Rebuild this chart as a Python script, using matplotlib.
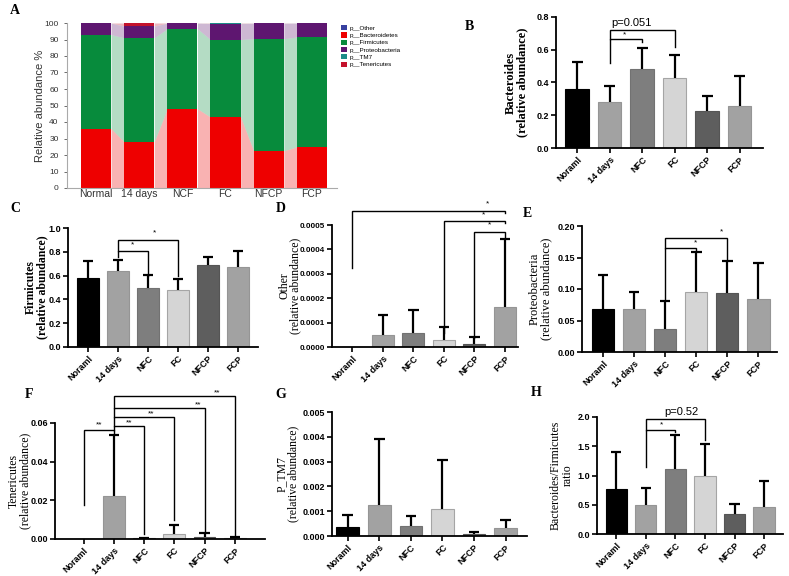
import matplotlib.pyplot as plt
from matplotlib.patches import Patch
from matplotlib.ticker import FormatStrFormatter, MultipleLocator

W, H = 789, 576

# ---- panel A: stacked relative abundance (%)
stack_groups = ['Normal', '14 days', 'NCF', 'FC', 'NFCP', 'FCP']
bacteroidetes = [36.0, 28.0, 48.0, 43.0, 22.5, 25.0]
firmicutes = [57.0, 63.0, 48.5, 47.0, 68.0, 66.5]
proteobacteria = [6.96, 7.0, 3.41, 9.64, 9.39, 8.42]
tm7 = [0.03, 0.13, 0.04, 0.11, 0.01, 0.03]
tenericutes = [0.01, 1.87, 0.05, 0.25, 0.1, 0.05]
other = [0.0, 0.005, 0.006, 0.003, 0.001, 0.016]

# ---- panels B-H: mean and SD per group
groups = ['Noraml', '14 days', 'NFC', 'FC', 'NFCP', 'FCP']
bact_mean = [0.36, 0.28, 0.48, 0.43, 0.225, 0.255]
bact_sd = [0.165, 0.10, 0.13, 0.135, 0.09, 0.185]
firm_mean = [0.58, 0.64, 0.495, 0.475, 0.69, 0.675]
firm_sd = [0.14, 0.095, 0.11, 0.095, 0.07, 0.13]
other_mean = [0.0, 5.0e-5, 5.8e-5, 3.0e-5, 1.3e-5, 1.65e-4]
other_sd = [0.0, 8.2e-5, 9.5e-5, 5.0e-5, 3.0e-5, 2.78e-4]
proteo_mean = [0.069, 0.068, 0.037, 0.095, 0.094, 0.084]
proteo_sd = [0.054, 0.027, 0.044, 0.063, 0.050, 0.057]
teneri_mean = [0.0, 0.0225, 0.0005, 0.0025, 0.0012, 0.0006]
teneri_sd = [0.0, 0.0315, 0.0001, 0.005, 0.0018, 0.0006]
tm7_mean = [0.00035, 0.00127, 0.00042, 0.0011, 0.0001, 0.00031]
tm7_sd = [0.0005, 0.00266, 0.0004, 0.00195, 0.00008, 0.00033]
ratio_mean = [0.77, 0.49, 1.11, 1.0, 0.35, 0.46]
ratio_sd = [0.64, 0.30, 0.58, 0.53, 0.17, 0.44]

bar_colors = ['#000000', '#a2a2a2', '#7e7e7e', '#d5d5d5', '#5e5e5e', '#a2a2a2']
edge_colors = ['#000000', '#959595', '#727272', '#a5a5a5', '#555555', '#959595']

SERIF = 'Liberation Serif'
SANS = 'Liberation Sans'

fig = plt.figure(figsize=(W / 100, H / 100), dpi=100)


def px_axes(l, r, t, b):
    return fig.add_axes([l / W, 1 - b / H, (r - l) / W, (b - t) / H])


def panel_label(x, y, s):
    fig.text(x / W, 1 - y / H, s, fontfamily=SERIF, fontweight='bold', fontsize=10,
             ha='left', va='center')


# ================= A =================
axA = px_axes(67, 337, 23, 188)
layers = [
    ('p__Bacteroidetes', bacteroidetes, '#ee0000'),
    ('p__Firmicutes', firmicutes, '#078b3c'),
    ('p__Proteobacteria', proteobacteria, '#5e1670'),
    ('p__TM7', tm7, '#1c8c88'),
    ('p__Tenericutes', tenericutes, '#c4122c'),
    ('p__Other', other, '#3840a0'),
]
w = 0.7
xs = list(range(len(stack_groups)))
bottom = [0.0] * len(xs)
for name, vals, col in layers:
    top = [b + v for b, v in zip(bottom, vals)]
    axA.bar(xs, vals, width=w, bottom=bottom, color=col, linewidth=0, zorder=2)
    for i in range(len(xs) - 1):
        axA.fill_between([i + w / 2, i + 1 - w / 2], [bottom[i], bottom[i + 1]],
                         [top[i], top[i + 1]], color=col, alpha=0.3, linewidth=0, zorder=1)
    bottom = top
axA.set_xlim(-0.67, 5.58)
axA.set_ylim(0, 100)
axA.yaxis.set_major_locator(MultipleLocator(10))
axA.set_xticks(xs)
axA.set_xticklabels(stack_groups, fontfamily=SANS, fontsize=7.5, color='#333333')
axA.tick_params(axis='y', labelsize=6, colors='#555555', length=2.5, width=0.6)
axA.tick_params(axis='x', length=0, pad=1)
for lbl in axA.get_yticklabels():
    lbl.set_fontfamily(SANS)
    lbl.set_color('#333333')
for s in ['top', 'right']:
    axA.spines[s].set_visible(False)
for s in ['left', 'bottom']:
    axA.spines[s].set_color('#aaaaaa')
    axA.spines[s].set_linewidth(0.8)
axA.text(-0.1, 0.5, 'Relative abundance %', transform=axA.transAxes, rotation=90,
         ha='center', va='center', fontfamily=SANS, fontsize=8, color='#333333')

leg_order = ['p__Other', 'p__Bacteroidetes', 'p__Firmicutes', 'p__Proteobacteria',
             'p__TM7', 'p__Tenericutes']
col_map = {n: c for n, _, c in layers}
handles = [Patch(facecolor=col_map[n], edgecolor='none', label=n) for n in leg_order]
fig.legend(handles=handles, loc='upper left', bbox_to_anchor=(341 / W, 1 - 25 / H),
           frameon=False, prop={'family': SANS, 'size': 4.5}, handlelength=0.9,
           handleheight=0.9, handletextpad=0.5, labelspacing=0.25, borderaxespad=0,
           borderpad=0)
panel_label(10, 11, 'A')


# ================= bar panels =================
def bar_panel(ax, means, sds, ymax, step, fmt, xlim, ylabel, lab_x, lab_size, bold,
              tick_size=6.5):
    x = list(range(len(groups)))
    ax.bar(x, means, width=0.72, color=bar_colors, edgecolor=edge_colors,
           linewidth=0.8, zorder=2)
    for xi, m, s in zip(x, means, sds):
        if s > 0:
            ax.vlines(xi, m, m + s, color='black', lw=1.6, zorder=3)
            ax.hlines(m + s, xi - 0.17, xi + 0.17, color='black', lw=1.6, zorder=3)
    ax.set_xlim(*xlim)
    ax.set_ylim(0, ymax)
    ax.yaxis.set_major_locator(MultipleLocator(step))
    ax.yaxis.set_major_formatter(FormatStrFormatter(fmt))
    ax.set_xticks(x)
    ax.set_xticklabels(groups, rotation=45, ha='right', rotation_mode='anchor',
                       fontfamily=SANS, fontweight='bold', fontsize=6.5)
    for lbl in ax.get_yticklabels():
        lbl.set_fontfamily(SANS)
        lbl.set_fontweight('bold')
        lbl.set_fontsize(tick_size)
    ax.tick_params(axis='both', length=3.5, width=1.2, pad=1.5)
    for s in ['top', 'right']:
        ax.spines[s].set_visible(False)
    for s in ['left', 'bottom']:
        ax.spines[s].set_linewidth(1.3)
    ax.text(lab_x, 0.5, ylabel, transform=ax.transAxes, rotation=90, ha='center',
            va='center', fontfamily=SERIF, fontsize=lab_size,
            fontweight='bold' if bold else 'normal', linespacing=0.95)


def bracket(ax, i, j, y, yi, yj, text, tx, ty, size=7, family=SANS):
    ax.plot([i, i, j, j], [yi, y, y, yj], color='black', lw=1.0, clip_on=False,
            zorder=4, solid_joinstyle='miter')
    ax.text(tx, ty, text, ha='center', va='center', fontsize=size, fontfamily=family,
            clip_on=False)


# B
axB = px_axes(556, 763, 17, 148)
bar_panel(axB, bact_mean, bact_sd, 0.8, 0.2, '%.1f', (-0.65, 5.72),
          'Bacteroides\n(relative abundance)', -0.19, 9, True)
bracket(axB, 1, 2, 0.666, 0.52, 0.647, '*', 1.45, 0.69, 6)
bracket(axB, 1, 3, 0.72, 0.666, 0.617, 'p=0.051', 1.66, 0.762, 8)
panel_label(465, 27, 'B')

# C
axC = px_axes(68, 258, 228, 347)
bar_panel(axC, firm_mean, firm_sd, 1.0, 0.2, '%.1f', (-0.67, 5.67),
          'Firmicutes\n(relative abundance)', -0.165, 8.5, True)
bracket(axC, 1, 2, 0.805, 0.757, 0.6, '*', 1.48, 0.855, 6)
bracket(axC, 1, 3, 0.897, 0.805, 0.6, '*', 2.2, 0.955, 6)
panel_label(10, 209, 'C')

# D
axD = px_axes(332, 518, 225, 347)
bar_panel(axD, other_mean, other_sd, 0.0005, 0.0001, '%.4f', (-0.67, 5.43),
          'Other\n(relative abundance)', -0.226, 8.5, False, tick_size=5.8)
bracket(axD, 0, 5, 0.000559, 0.000322, 0.000549, '*', 4.44, 0.000585, 6)
bracket(axD, 3, 5, 0.000518, 0.000056, 0.000508, '*', 4.31, 0.000542, 6)
bracket(axD, 4, 5, 0.00047, 0.000036, 0.000446, '*', 4.49, 0.000500, 6)
panel_label(276, 208, 'D')

# E
axE = px_axes(582, 777, 226, 352)
bar_panel(axE, proteo_mean, proteo_sd, 0.20, 0.05, '%.2f', (-0.68, 5.6),
          'Proteobacteria\n(relative abundance)', -0.215, 9, False)
bracket(axE, 2, 3, 0.165, 0.082, 0.161, '*', 2.97, 0.173, 6)
bracket(axE, 2, 4, 0.1816, 0.165, 0.146, '*', 3.8, 0.19, 6)
panel_label(523, 213, 'E')

# F
axF = px_axes(55, 265, 423, 539)
bar_panel(axF, teneri_mean, teneri_sd, 0.06, 0.02, '%.2f', (-0.95, 6.0),
          'Tenericutes\n(relative abundance)', -0.17, 8.5, False)
bracket(axF, 0, 1, 0.0565, 0.0176, 0.055, '**', 0.5, 0.0588, 6)
bracket(axF, 1, 2, 0.0586, 0.0565, 0.0026, '**', 1.5, 0.0602, 6)
bracket(axF, 1, 3, 0.0631, 0.0586, 0.0098, '**', 2.22, 0.0648, 6)
bracket(axF, 1, 4, 0.0678, 0.0631, 0.004, '**', 3.8, 0.0694, 6)
bracket(axF, 1, 5, 0.0738, 0.0678, 0.0012, '**', 4.43, 0.0755, 6)
panel_label(25, 394, 'F')

# G
axG = px_axes(332, 527, 412, 536)
bar_panel(axG, tm7_mean, tm7_sd, 0.005, 0.001, '%.3f', (-0.5, 5.68),
          'P_TM7\n(relative abundance)', -0.23, 8.5, False)
panel_label(275, 395, 'G')

# H
axH = px_axes(597, 783, 417, 534)
bar_panel(axH, ratio_mean, ratio_sd, 2.0, 0.5, '%.1f', (-0.65, 5.64),
          'Bacteroides/Firmicutes\nratio', -0.19, 8.5, False)
bracket(axH, 1, 2, 1.785, 1.15, 1.745, '*', 1.54, 1.86, 6)
bracket(axH, 1, 3, 1.966, 1.785, 1.6, 'p=0.52', 2.22, 2.09, 8)
panel_label(531, 392, 'H')

fig.savefig('out.png', dpi=100)
